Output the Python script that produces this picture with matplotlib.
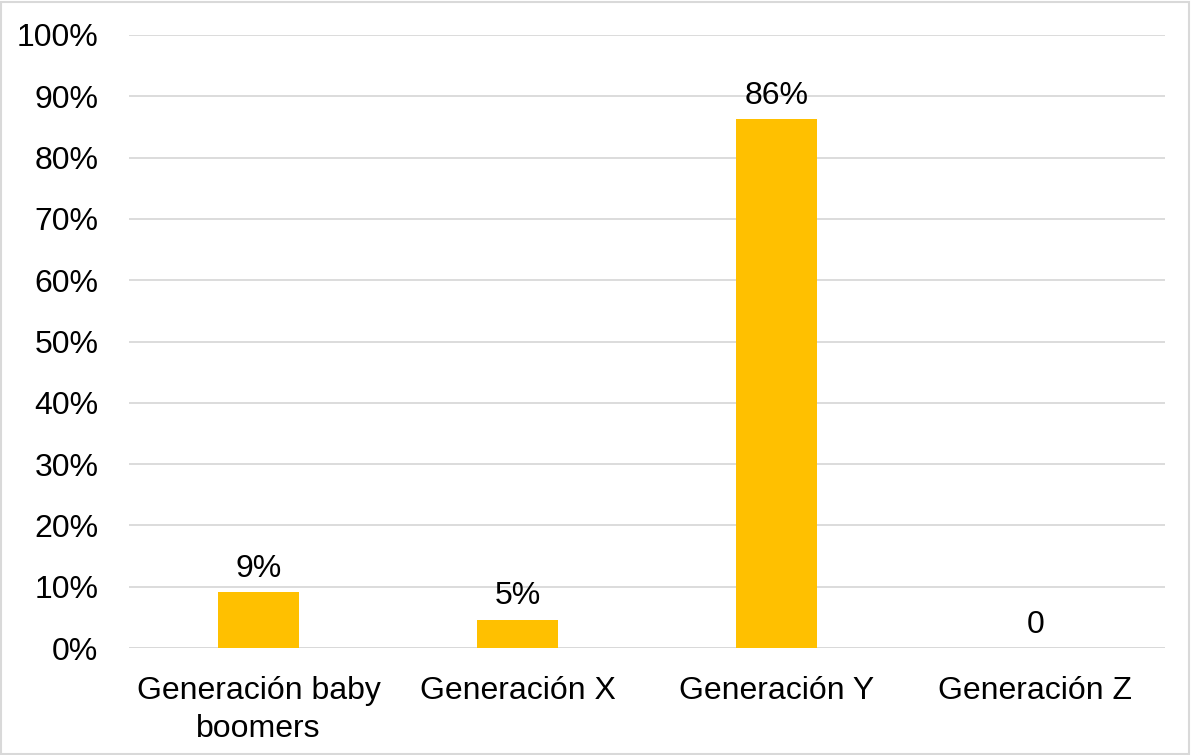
import matplotlib.pyplot as plt
from matplotlib.patches import Rectangle

plt.rcParams['font.family'] = ['Liberation Sans', 'DejaVu Sans']

categories = ["Generación baby\nboomers", "Generación X", "Generación Y", "Generación Z"]
shares = [0.091, 0.046, 0.863, 0.0]
y_ticks = [0.0, 0.1, 0.2, 0.3, 0.4, 0.5, 0.6, 0.7, 0.8, 0.9, 1.0]

fig = plt.figure(figsize=(11.91, 7.55), dpi=100)
ax = fig.add_axes([129 / 1191, 107 / 755, (1165 - 129) / 1191, (648 - 35) / 755])

x = range(len(categories))
bars = ax.bar(x, shares, width=0.31, color="#FFC000", zorder=3)

for b, v in zip(bars, shares):
    label = "0" if v == 0 else "{:.0%}".format(v)
    ax.annotate(label, (b.get_x() + b.get_width() / 2, v),
                xytext=(0, 6), textcoords="offset points",
                ha="center", va="bottom", fontsize=23, color="#000000")

ax.set_xlim(-0.5, len(categories) - 0.5)
ax.set_ylim(0, 1.0)
ax.set_yticks(y_ticks)
ax.set_yticklabels(["{:.0%}".format(t) for t in y_ticks])
ax.set_xticks(list(x))
ax.set_xticklabels(categories, va="top", linespacing=1.35)
ax.tick_params(axis="both", length=0, labelsize=23, colors="#000000")
ax.tick_params(axis="y", pad=22)
ax.tick_params(axis="x", pad=20)

ax.grid(axis="y", color="#d9d9d9", linewidth=1.3, zorder=0)
ax.set_axisbelow(True)
for s in ax.spines.values():
    s.set_visible(False)
ax.axhline(0, color="#d9d9d9", linewidth=1.3, zorder=1)

# light frame around the whole figure
fig.patches.append(Rectangle((0.001, 0.001), 0.997, 0.997, transform=fig.transFigure,
                             fill=False, edgecolor="#d9d9d9", linewidth=1.5))

fig.savefig("out.png", dpi=100)
